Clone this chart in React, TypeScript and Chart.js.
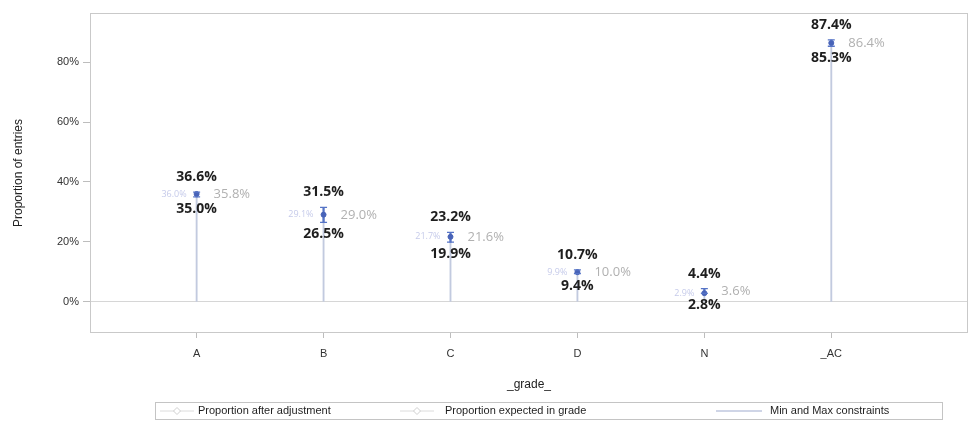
import React, { useEffect, useRef } from 'react';
import { Chart, registerables } from 'chart.js';

Chart.register(...registerables);

const categories = ['A', 'B', 'C', 'D', 'N', '_AC'];
const maxConstraint = [36.6, 31.5, 23.2, 10.7, 4.4, 87.4];
const minConstraint = [35.0, 26.5, 19.9, 9.4, 2.8, 85.3];
const expectedProp = [35.8, 29.0, 21.6, 10.0, 3.6, 86.4];
const adjustedProp = [36.0, 29.1, 21.7, 9.9, 2.9, 86.4];
const showAdjustedLabel = [true, true, true, true, true, false];
const yTickValues = [0, 20, 40, 60, 80];

const legendItems = [
  { label: 'Proportion after adjustment', kind: 'marker', symX: 160, textX: 198 },
  { label: 'Proportion expected in grade', kind: 'marker', symX: 400, textX: 445 },
  { label: 'Min and Max constraints', kind: 'line', symX: 716, textX: 770 },
];

const pct = (v: number) => v.toFixed(1) + '%';

const NEEDLE = '#c2cadf';
const BLUE = '#5674c6';
const MARK = '#4863b8';

const decorPlugin = {
  id: 'decor',
  beforeDatasetsDraw(chart: any) {
    const { ctx, chartArea } = chart;
    ctx.save();
    ctx.strokeStyle = '#c9c9c9';
    ctx.lineWidth = 1;
    ctx.strokeRect(chartArea.left + 0.5, chartArea.top + 0.5, chartArea.right - chartArea.left - 1, chartArea.bottom - chartArea.top - 1);
    ctx.restore();
  },
  afterDatasetsDraw(chart: any) {
    const { ctx } = chart;
    ctx.save();
    const mm = chart.getDatasetMeta(1);
    const exp = chart.getDatasetMeta(2);
    const adj = chart.getDatasetMeta(3);
    mm.data.forEach((el: any, i: number) => {
      const top = Math.min(el.y, el.base);
      const bot = Math.max(el.y, el.base);
      ctx.strokeStyle = BLUE;
      ctx.lineWidth = 1.3;
      ctx.beginPath();
      ctx.moveTo(el.x - 3.5, top);
      ctx.lineTo(el.x + 3.5, top);
      ctx.moveTo(el.x - 3.5, bot);
      ctx.lineTo(el.x + 3.5, bot);
      ctx.stroke();
      ctx.fillStyle = '#1e1e1e';
      ctx.font = 'bold 14px "Open Sans"';
      ctx.textAlign = 'center';
      ctx.textBaseline = 'middle';
      ctx.fillText(pct(maxConstraint[i]), el.x, top - 15);
      ctx.fillText(pct(minConstraint[i]), el.x, bot + 12);
    });
    exp.data.forEach((pt: any, i: number) => {
      ctx.fillStyle = '#b0b0b0';
      ctx.font = '13px "Open Sans"';
      ctx.textAlign = 'left';
      ctx.textBaseline = 'middle';
      ctx.fillText(pct(expectedProp[i]), pt.x + 17, pt.y);
    });
    adj.data.forEach((pt: any, i: number) => {
      if (!showAdjustedLabel[i]) return;
      ctx.fillStyle = '#c6cbea';
      ctx.font = '9px "Open Sans"';
      ctx.textAlign = 'right';
      ctx.textBaseline = 'middle';
      ctx.fillText(pct(adjustedProp[i]), pt.x - 10, pt.y);
    });
    ctx.restore();
  },
  afterDraw(chart: any) {
    const { ctx } = chart;
    ctx.save();
    const bx = 155, by = 402, bw = 787, bh = 17;
    ctx.strokeStyle = '#c4c4c4';
    ctx.lineWidth = 1;
    ctx.strokeRect(bx + 0.5, by + 0.5, bw, bh);
    const cy = by + bh / 2 + 0.5;
    legendItems.forEach((it) => {
      if (it.kind === 'marker') {
        ctx.strokeStyle = '#dcdcdc';
        ctx.lineWidth = 1;
        ctx.beginPath();
        ctx.moveTo(it.symX, cy);
        ctx.lineTo(it.symX + 34, cy);
        ctx.stroke();
        const mx = it.symX + 17;
        ctx.beginPath();
        ctx.moveTo(mx, cy - 3.5);
        ctx.lineTo(mx + 3.5, cy);
        ctx.lineTo(mx, cy + 3.5);
        ctx.lineTo(mx - 3.5, cy);
        ctx.closePath();
        ctx.fillStyle = '#ffffff';
        ctx.fill();
        ctx.strokeStyle = '#cfcfcf';
        ctx.stroke();
      } else {
        ctx.strokeStyle = '#9fabce';
        ctx.lineWidth = 1;
        ctx.beginPath();
        ctx.moveTo(it.symX, cy);
        ctx.lineTo(it.symX + 46, cy);
        ctx.stroke();
      }
      ctx.fillStyle = '#1e1e1e';
      ctx.font = '11px "Liberation Sans"';
      ctx.textAlign = 'left';
      ctx.textBaseline = 'middle';
      ctx.fillText(it.label, it.textX, cy);
    });
    ctx.restore();
  },
};

export default function App() {
  const ref = useRef<HTMLCanvasElement>(null);
  useEffect(() => {
    if (!ref.current) return;
    const chart = new Chart(ref.current, {
      type: 'scatter',
      data: {
        datasets: [
          {
            type: 'bar',
            label: 'needle',
            data: categories.map((_, i) => ({ x: i, y: [0, adjustedProp[i]] })) as any,
            backgroundColor: NEEDLE,
            barThickness: 1.2,
            grouped: false,
            order: 4,
          } as any,
          {
            type: 'bar',
            label: 'Min and Max constraints',
            data: categories.map((_, i) => ({ x: i, y: [minConstraint[i], maxConstraint[i]] })) as any,
            backgroundColor: BLUE,
            barThickness: 1.6,
            grouped: false,
            order: 3,
          } as any,
          {
            type: 'scatter',
            label: 'Proportion expected in grade',
            data: categories.map((_, i) => ({ x: i, y: expectedProp[i] })),
            pointRadius: 0,
            order: 2,
          },
          {
            type: 'scatter',
            label: 'Proportion after adjustment',
            data: categories.map((_, i) => ({ x: i, y: adjustedProp[i] })),
            pointRadius: 2.5,
            pointStyle: 'circle',
            backgroundColor: MARK,
            borderColor: MARK,
            order: 1,
          },
        ],
      },
      options: {
        responsive: false,
        animation: false,
        layout: { padding: { top: 13, right: 3, left: 0, bottom: 37 } },
        plugins: {
          legend: { display: false },
          tooltip: { enabled: false },
          title: { display: false },
        },
        scales: {
          x: {
            type: 'linear',
            min: -0.84,
            max: 6.077,
            offset: false,
            afterBuildTicks: (s: any) => {
              s.ticks = categories.map((_, i) => ({ value: i }));
            },
            afterFit: (s: any) => {
              s.height = 62;
            },
            ticks: {
              autoSkip: false,
              maxRotation: 0,
              padding: 9,
              color: '#333',
              font: { family: 'Liberation Sans', size: 11 },
              callback: (v: any) => categories[v as number] ?? '',
            },
            grid: { drawOnChartArea: false, offset: false, tickLength: 5, color: '#bdbdbd' },
            border: { display: false },
            title: {
              display: true,
              text: '_grade_',
              color: '#222',
              font: { family: 'Liberation Sans', size: 12 },
              padding: { top: 0, bottom: 3 },
            },
          },
          y: {
            min: -10.4,
            max: 96.4,
            afterBuildTicks: (s: any) => {
              s.ticks = yTickValues.map((v) => ({ value: v }));
            },
            afterFit: (s: any) => {
              s.width = 90;
            },
            ticks: {
              padding: 4,
              color: '#333',
              font: { family: 'Liberation Sans', size: 11 },
              callback: (v: any) => v + '%',
            },
            grid: {
              drawOnChartArea: true,
              tickLength: 7,
              color: (c: any) => (c.tick && c.tick.value === 0 ? '#d6d6d6' : 'rgba(0,0,0,0)'),
              tickColor: '#bdbdbd',
            },
            border: { display: false },
            title: {
              display: true,
              text: 'Proportion of entries',
              color: '#222',
              font: { family: 'Liberation Sans', size: 12 },
              padding: { top: 11, bottom: 0 },
            },
          },
        },
      },
      plugins: [decorPlugin],
    });
    return () => chart.destroy();
  }, []);
  return (
    <div style={{ position: 'absolute', left: 0, top: 0, width: 973, height: 432, background: '#fff' }}>
      <canvas ref={ref} width={973} height={432} style={{ width: 973, height: 432, display: 'block' }} />
    </div>
  );
}
